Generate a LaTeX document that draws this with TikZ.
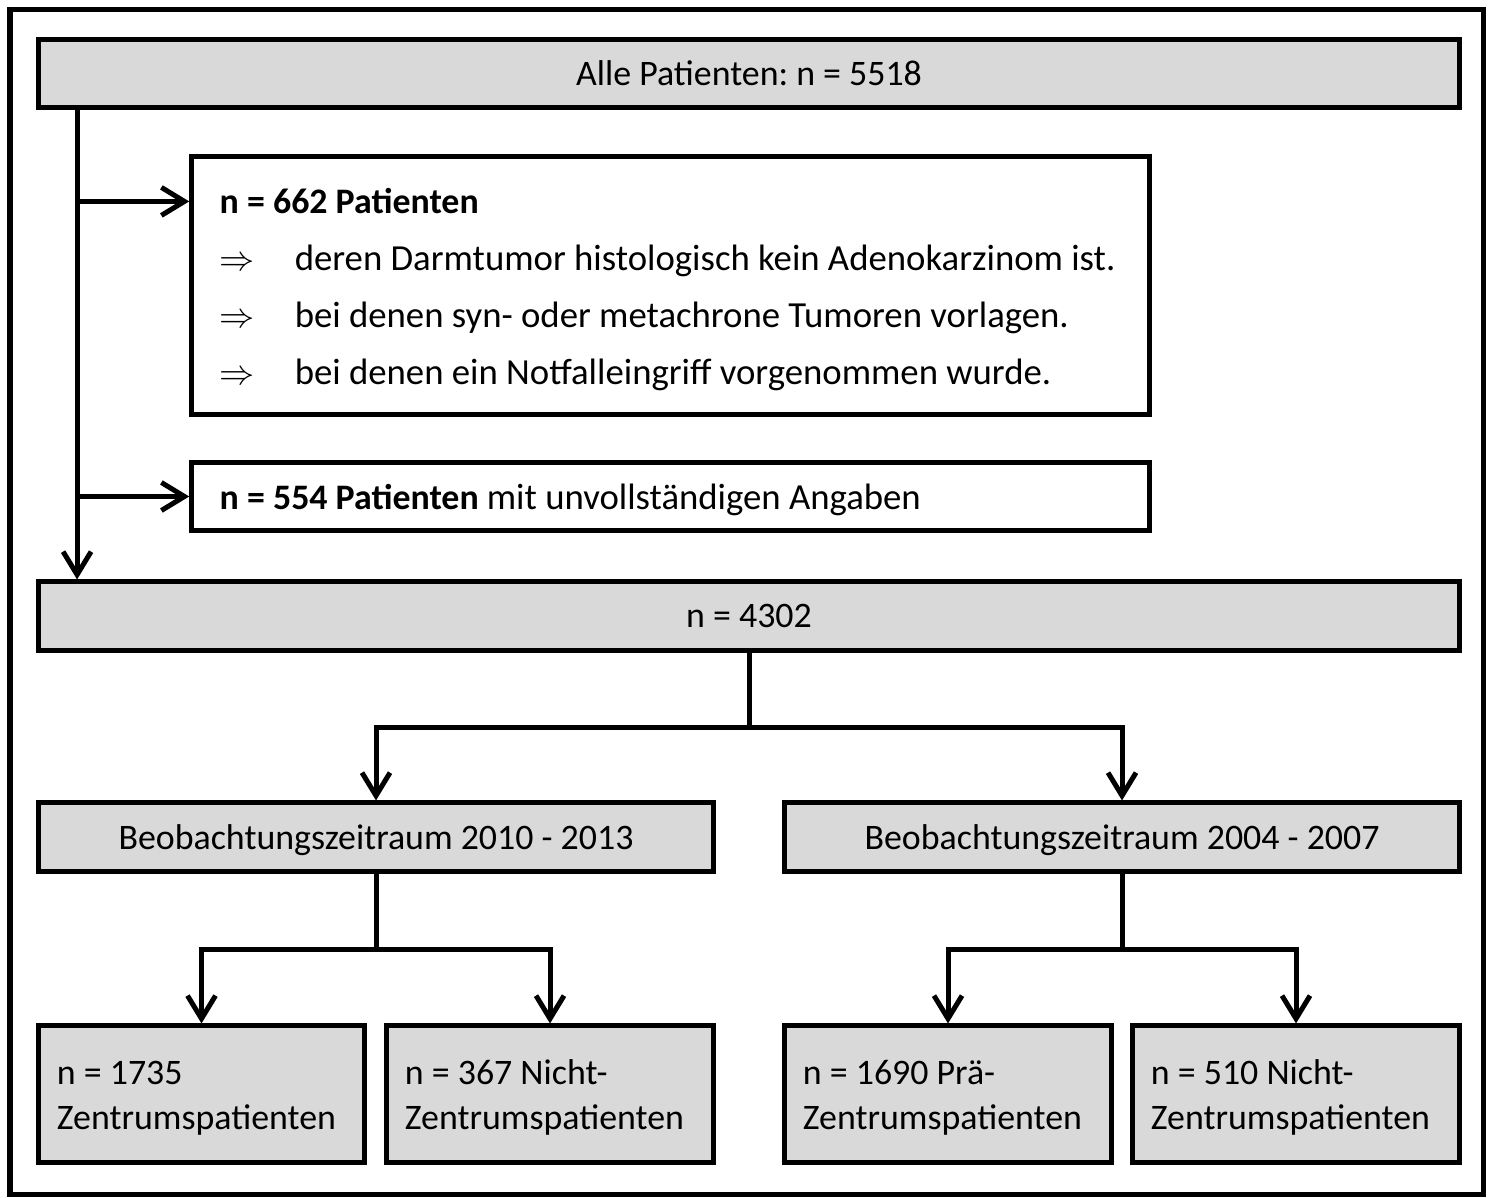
\documentclass[tikz,border=0pt]{standalone}
\usepackage{fontspec}
\setmainfont{Carlito}
\usepackage{tikz}
\usetikzlibrary{arrows.meta, calc}

\definecolor{boxgray}{RGB}{217,217,217}
\newcommand{\duenn}{\fontsize{10.45}{16.2}\selectfont}
\frenchspacing

\begin{document}
\begin{tikzpicture}[x=0.01cm, y=-0.01cm, line width=0.05cm,
		box/.style={draw, rectangle, inner sep=0pt, font=\fontsize{10.2}{12.3}\selectfont},
		grey/.style={box, fill=boxgray},
		zeile/.style={text depth=0pt},
		pfeil/.style={-{Straight Barb[length=2.3mm, width=2.8mm]}}]
		\useasboundingbox (0,0) rectangle (1489,1198);

		\draw (10,10) rectangle (1483,1194);

		\node[grey, zeile, minimum width=14.2cm, minimum height=0.67cm] (a) at (749,73.5) {Alle Patienten: n = 5518};
		
		\node[box, minimum width=9.57cm, minimum height=2.57cm, text width=9.01cm, align=flush left, inner xsep=0.28cm,
			font=\fontsize{10.2}{16.2}\selectfont] (b) at (670.5,285.5)
			{\rule{0pt}{9.4pt}\textbf{n = 662 Patienten}\\
			\makebox[0.75cm][l]{$\Rightarrow$}{\duenn deren Darmtumor histologisch kein Adenokarzinom ist.}\\
			\makebox[0.75cm][l]{$\Rightarrow$}{\duenn bei denen syn- oder metachrone Tumoren vorlagen.}\\
			\makebox[0.75cm][l]{$\Rightarrow$}{\duenn bei denen ein Notfalleingriff vorgenommen wurde.}};
		\node[box, zeile, minimum width=9.57cm, minimum height=0.67cm, text width=9.01cm, align=flush left, inner xsep=0.28cm] (c) at (670.5,496.5)
			{\textbf{n = 554 Patienten} {\duenn mit unvollständigen Angaben}};
		
		\node[grey, zeile, minimum width=14.2cm, minimum height=0.68cm] (d) at (749,616) {n = 4302};
		
		\node[grey, zeile, minimum width=6.74cm, minimum height=0.68cm] (e) at (376,837) {Beobachtungszeitraum 2010 - 2013};
		\node[grey, zeile, minimum width=6.74cm, minimum height=0.68cm] (f) at (1122,837) {Beobachtungszeitraum 2004 - 2007};
		
		\node[grey, minimum width=3.25cm, minimum height=1.36cm, text width=2.89cm, align=flush left, inner xsep=0.18cm,
			font=\fontsize{10.2}{12.8}\selectfont] (g) at (201.5,1094) {\rule{0pt}{9.2pt}n = 1735\\Zentrumspatienten};
		\node[grey, minimum width=3.26cm, minimum height=1.36cm, text width=2.9cm, align=flush left, inner xsep=0.18cm,
			font=\fontsize{10.2}{12.8}\selectfont] (h) at (550,1094) {\rule{0pt}{9.2pt}n = 367 Nicht-\\Zentrumspatienten};
		\node[grey, minimum width=3.26cm, minimum height=1.36cm, text width=2.9cm, align=flush left, inner xsep=0.18cm,
			font=\fontsize{10.2}{12.8}\selectfont] (i) at (948,1094) {\rule{0pt}{9.2pt}n = 1690 Prä-\\Zentrumspatienten};
		\node[grey, minimum width=3.26cm, minimum height=1.36cm, text width=2.9cm, align=flush left, inner xsep=0.18cm,
			font=\fontsize{10.2}{12.8}\selectfont] (j) at (1296,1094) {\rule{0pt}{9.2pt}n = 510 Nicht-\\Zentrumspatienten};
		
		% Ausschluss
		\coordinate (s) at ($(a.south west)+(41,0)$);
		\draw[pfeil] (s) -- (s |- d.north);
		\draw[pfeil] (s |- b.north) ++(0,47) coordinate (t) -- (t -| b.west);
		\draw[pfeil] (s |- c.west) -- (c.west);
		
		% Aufteilung
		\draw[pfeil] (d.south) -- ++(0,75) -| (e.north);
		\draw[pfeil] (d.south) -- ++(0,75) -| (f.north);
		\draw[pfeil] (e.south) -- ++(0,76) -| (g.north);
		\draw[pfeil] (e.south) -- ++(0,76) -| (h.north);
		\draw[pfeil] (f.south) -- ++(0,76) -| (i.north);
		\draw[pfeil] (f.south) -- ++(0,76) -| (j.north);
	\end{tikzpicture}
\end{document}
